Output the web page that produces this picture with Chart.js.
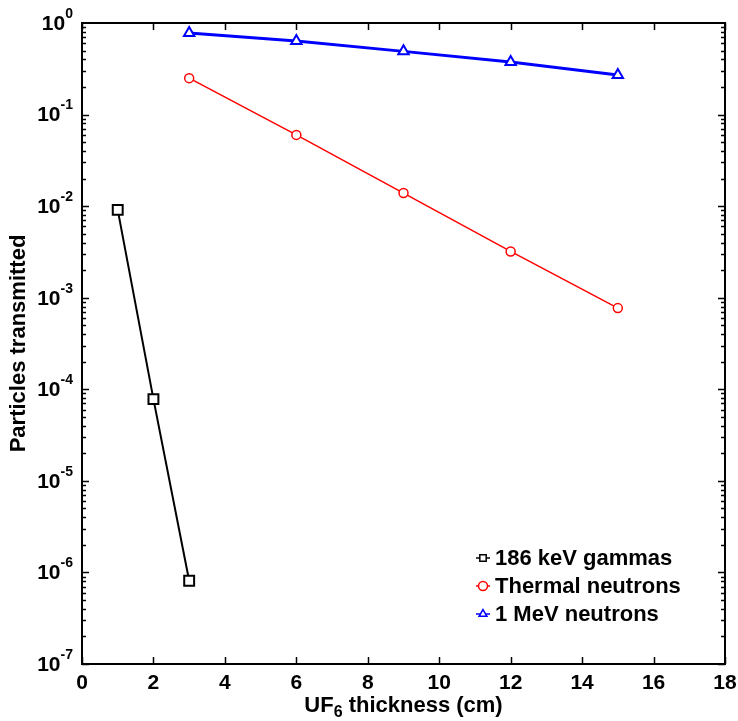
<!DOCTYPE html>
<html>
<head>
<meta charset="utf-8">
<script src="https://cdn.jsdelivr.net/npm/chart.js@4/dist/chart.umd.min.js"></script>
<style>
  html, body { margin: 0; padding: 0; background: #fff; }
  #wrap { width: 738px; height: 721px; }
</style>
</head>
<body>
<div id="wrap"><canvas id="chart"></canvas></div>
<script>
// values
const gammaX = [1, 2, 3];
const gammaY = [9.1e-3, 7.8e-5, 8.1e-7];
const thermalX = [3, 6, 9, 12, 15];
const thermalY = [0.25, 0.060, 0.0139, 0.0032, 7.7e-4];
const fastX = [3, 6, 9, 12, 15];
const fastY = [0.78, 0.635, 0.49, 0.375, 0.27];
const seriesNames = ['186 keV gammas', 'Thermal neutrons', '1 MeV neutrons'];
const xTicks = [0, 2, 4, 6, 8, 10, 12, 14, 16, 18];
const yExponents = [0, -1, -2, -3, -4, -5, -6, -7];

const FONT = '"Liberation Sans", Arial, sans-serif';

function points(xs, ys) {
  return xs.map((x, i) => ({ x, y: ys[i] }));
}

// axes box, inward ticks, labels, titles and legend
const decorations = {
  id: 'decorations',
  afterDraw(chart) {
    const { ctx, chartArea: a } = chart;
    const xs = chart.scales.x;
    const ys = chart.scales.y;
    ctx.save();
    ctx.strokeStyle = '#000';
    ctx.fillStyle = '#000';
    ctx.lineWidth = 2;
    ctx.strokeRect(a.left, a.top, a.right - a.left, a.bottom - a.top);

    // x ticks
    ctx.lineWidth = 1.5;
    ctx.beginPath();
    xTicks.forEach((v) => {
      const px = Math.round(xs.getPixelForValue(v)) + 0.5;
      ctx.moveTo(px, a.bottom); ctx.lineTo(px, a.bottom - 7);
      ctx.moveTo(px, a.top); ctx.lineTo(px, a.top + 7);
    });
    // y ticks, major and minor
    yExponents.forEach((e) => {
      if (e === 0) return;
      for (let m = 1; m <= 9; m += 1) {
        const py = Math.round(ys.getPixelForValue(m * Math.pow(10, e))) + 0.5;
        const len = m === 1 ? 7 : 4;
        ctx.moveTo(a.left, py); ctx.lineTo(a.left + len, py);
        ctx.moveTo(a.right, py); ctx.lineTo(a.right - len, py);
      }
    });
    ctx.stroke();

    // x tick labels
    ctx.font = 'bold 21px ' + FONT;
    ctx.textAlign = 'center';
    ctx.textBaseline = 'top';
    xTicks.forEach((v) => {
      ctx.fillText(String(v), xs.getPixelForValue(v), a.bottom + 9);
    });

    // y tick labels 10^e
    yExponents.forEach((e) => {
      const py = ys.getPixelForValue(Math.pow(10, e));
      ctx.font = 'bold 14px ' + FONT;
      const ew = ctx.measureText(String(e)).width;
      const right = a.left - 9;
      ctx.textAlign = 'left';
      ctx.textBaseline = 'middle';
      ctx.fillText(String(e), right - ew, py - 9);
      ctx.font = 'bold 21px ' + FONT;
      ctx.textAlign = 'right';
      ctx.fillText('10', right - ew, py + 1);
    });

    // y title
    ctx.save();
    ctx.translate(19, (a.top + a.bottom) / 2);
    ctx.rotate(-Math.PI / 2);
    ctx.font = 'bold 22px ' + FONT;
    ctx.textAlign = 'center';
    ctx.textBaseline = 'middle';
    ctx.fillText('Particles transmitted', 0, 0);
    ctx.restore();

    // x title with subscript
    const big = 'bold 22px ' + FONT;
    const small = 'bold 16px ' + FONT;
    ctx.textAlign = 'left';
    ctx.textBaseline = 'alphabetic';
    ctx.font = big;
    const w1 = ctx.measureText('UF').width;
    const w3 = ctx.measureText(' thickness (cm)').width;
    ctx.font = small;
    const w2 = ctx.measureText('6').width;
    let tx = (a.left + a.right) / 2 - (w1 + w2 + w3) / 2;
    const base = a.bottom + 48;
    ctx.font = big;
    ctx.fillText('UF', tx, base);
    tx += w1;
    ctx.font = small;
    ctx.fillText('6', tx, base + 5);
    tx += w2;
    ctx.font = big;
    ctx.fillText(' thickness (cm)', tx, base);

    // legend
    const lx = a.right - 242;
    const ly = a.bottom - 106;
    chart.data.datasets.forEach((ds, i) => {
      const y = ly + i * 28;
      ctx.strokeStyle = ds.borderColor;
      ctx.lineWidth = 1.5;
      ctx.beginPath();
      ctx.moveTo(lx - 7, y); ctx.lineTo(lx + 7, y);
      ctx.stroke();
      ctx.fillStyle = '#fff';
      Chart.helpers.drawPoint(ctx, {
        pointStyle: ds.pointStyle, radius: 4.5, borderWidth: 1.5, rotation: 0,
      }, lx, y);
      ctx.fillStyle = '#000';
      ctx.font = 'bold 22px ' + FONT;
      ctx.textAlign = 'left';
      ctx.textBaseline = 'middle';
      ctx.fillText(ds.label, lx + 12, y + 1);
    });
    ctx.restore();
  },
};

new Chart(document.getElementById('chart'), {
  type: 'line',
  data: {
    datasets: [
      {
        label: seriesNames[0],
        data: points(gammaX, gammaY),
        borderColor: '#000000',
        borderWidth: 2,
        pointStyle: 'rect',
        pointRadius: 7,
        pointBorderWidth: 2,
        pointBackgroundColor: '#fff',
        pointBorderColor: '#000000',
      },
      {
        label: seriesNames[1],
        data: points(thermalX, thermalY),
        borderColor: '#ff0000',
        borderWidth: 1.5,
        pointStyle: 'circle',
        pointRadius: 4.5,
        pointBorderWidth: 1.5,
        pointBackgroundColor: '#fff',
        pointBorderColor: '#ff0000',
      },
      {
        label: seriesNames[2],
        data: points(fastX, fastY),
        borderColor: '#0000ff',
        borderWidth: 3,
        pointStyle: 'triangle',
        pointRadius: 6,
        pointBorderWidth: 2,
        pointBackgroundColor: '#fff',
        pointBorderColor: '#0000ff',
      },
    ],
  },
  options: {
    responsive: true,
    maintainAspectRatio: false,
    animation: false,
    events: [],
    layout: { padding: { left: 0, top: 23, right: 13, bottom: 0 } },
    plugins: { legend: { display: false }, tooltip: { enabled: false } },
    scales: {
      x: {
        type: 'linear',
        min: 0,
        max: 18,
        grid: { display: false },
        border: { display: false },
        ticks: { display: false },
        afterFit(scale) { scale.height = 57; },
      },
      y: {
        type: 'logarithmic',
        min: 1e-7,
        max: 1,
        grid: { display: false },
        border: { display: false },
        ticks: { display: false },
        afterFit(scale) { scale.width = 82; },
      },
    },
  },
  plugins: [decorations],
});
</script>
</body>
</html>
